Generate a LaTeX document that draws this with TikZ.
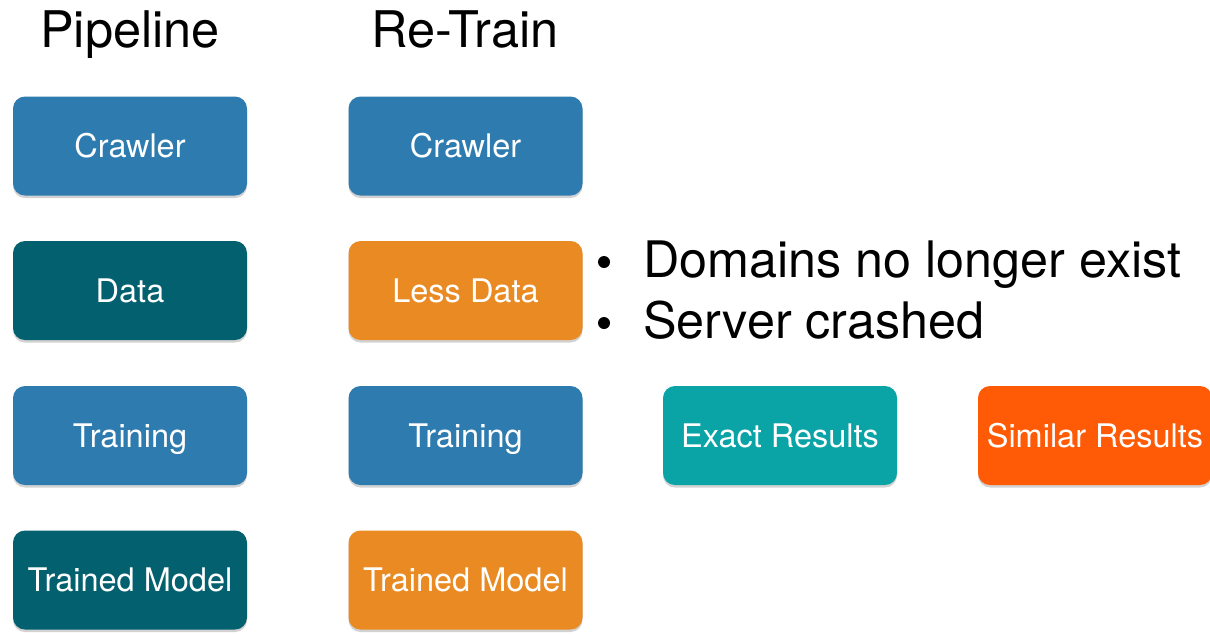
\documentclass[tikz,border=0pt]{standalone}
\usepackage{fontspec}
\setmainfont{TeX Gyre Heros}
\usetikzlibrary{shadows}
\definecolor{cblue}{HTML}{2E7BAF}
\definecolor{cdark}{HTML}{03606F}
\definecolor{corange}{HTML}{E98A22}
\definecolor{cteal}{HTML}{0AA3A6}
\definecolor{cred}{HTML}{FF5A05}
\begin{document}
\begin{tikzpicture}[x=1pt,y=-1pt,
  box/.style={rounded corners=12pt, minimum width=234pt, minimum height=99pt,
    text=white, font=\fontsize{32.5}{38}\selectfont, text height=23.5pt, text depth=0pt,
    drop shadow={shadow xshift=0pt, shadow yshift=-2.5pt, opacity=0.35}},
  title/.style={anchor=base, font=\fontsize{50.5}{58}\selectfont, inner sep=0pt},
  bul/.style={anchor=base west, font=\fontsize{50.3}{60}\selectfont, inner sep=0pt},
  dot/.style={circle, fill=black, minimum size=12pt, inner sep=0pt}]
\useasboundingbox (0,0) rectangle (1210,633);
\fill[white] (0,0) rectangle (1210,633);
\node[title] (t1) at (130,47) {Pipeline};
\node[title] (t2) at (465,47) {Re-Train};
\node[box, fill=cblue] (c1) at (130,146) {Crawler};
\node[box, fill=cdark] (d1) at (130,290.5) {Data};
\node[box, fill=cblue] (tr1) at (130,435.5) {Training};
\node[box, fill=cdark] (m1) at (130,580) {Trained Model};
\node[box, fill=cblue] (c2) at (465.5,146) {Crawler};
\node[box, fill=corange] (d2) at (465.5,290.5) {Less Data};
\node[box, fill=cblue] (tr2) at (465.5,435.5) {Training};
\node[box, fill=corange] (m2) at (465.5,580) {Trained Model};
\node[box, fill=cteal] (ex) at (780,435.5) {Exact Results};
\node[box, fill=cred] (sim) at (1095,435.5) {Similar Results};
\node[dot] (b1) at (604,262) {};
\node[dot] (b2) at (604,323) {};
\node[bul] (l1) at (643,277) {Domains no longer exist};
\node[bul] (l2) at (643,338) {Server crashed};
\end{tikzpicture}
\end{document}
